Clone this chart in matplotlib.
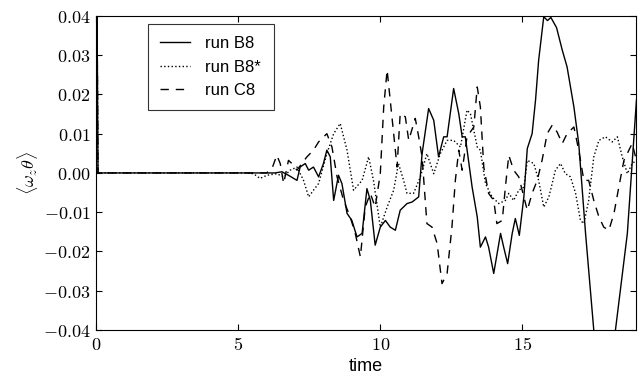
import matplotlib
matplotlib.use("Agg")
import matplotlib.pyplot as plt
from matplotlib.ticker import FuncFormatter, MultipleLocator

plt.rcParams["mathtext.fontset"] = "cm"

# run B8 (solid)
t_b8 = [0.0, 0.03, 0.07, 6.30, 6.54, 6.77, 7.07, 7.18, 7.36, 7.48, 7.65, 7.83, 8.00,
        8.12, 8.24, 8.36, 8.53, 8.65, 8.83, 9.00, 9.18, 9.36, 9.53, 9.65, 9.82,
        10.00, 10.18, 10.35, 10.53, 10.70, 10.94, 11.12, 11.35, 11.47, 11.70,
        11.88, 12.05, 12.23, 12.35, 12.58, 12.76, 12.88, 12.99, 13.23, 13.41,
        13.52, 13.70, 13.81, 13.99, 14.23, 14.34, 14.48, 14.64, 14.75, 14.89,
        15.05, 15.17, 15.34, 15.46, 15.57, 15.75, 15.88, 16.00, 16.20, 16.40,
        16.57, 16.81, 16.98, 17.22, 17.51, 17.89, 18.27, 18.69, 19.01]
v_b8 = [0.0, 0.05, 0.0, 0.0, 0.0003, -0.0006, -0.0019, 0.0015, 0.0024, 0.0007,
        0.0015, -0.0010, 0.0024, 0.0058, 0.0041, -0.0070, -0.0006, -0.0027,
        -0.0103, -0.0121, -0.0163, -0.0154, -0.0040, -0.0070, -0.0184, -0.0138,
        -0.0121, -0.0138, -0.0146, -0.0095, -0.0078, -0.0074, -0.0061, 0.0049,
        0.0164, 0.0134, 0.0041, 0.0092, 0.0092, 0.0215, 0.0151, 0.0092, 0.0092,
        -0.0036, -0.0112, -0.0189, -0.0163, -0.0189, -0.0256, -0.0154, -0.0189,
        -0.0231, -0.0154, -0.0116, -0.0159, -0.0061, 0.0062, 0.0100, 0.0185,
        0.0287, 0.0398, 0.0388, 0.0396, 0.0370, 0.0313, 0.0270, 0.0168, 0.0075,
        -0.0154, -0.0401, -0.0550, -0.0401, -0.0154, 0.0185]

# run B8* (dotted)
t_b8s = [0.0, 0.03, 0.07, 5.30, 5.54, 5.77, 6.01, 6.36, 6.60, 6.83, 7.07, 7.30,
         7.48, 7.65, 7.83, 8.12, 8.36, 8.59, 8.83, 9.06, 9.36, 9.59, 9.76,
         10.00, 10.24, 10.47, 10.64, 10.82, 10.94, 11.17, 11.41, 11.64, 11.88,
         12.11, 12.35, 12.58, 12.82, 13.05, 13.17, 13.41, 13.52, 13.70, 13.93,
         14.17, 14.40, 14.52, 14.69, 14.87, 15.05, 15.17, 15.40, 15.57, 15.75,
         15.93, 16.16, 16.34, 16.51, 16.69, 16.87, 17.04, 17.16, 17.33, 17.51,
         17.69, 17.92, 18.16, 18.34, 18.51, 18.69, 18.86, 19.01]
v_b8s = [0.0, 0.05, 0.0, 0.0, -0.0002, -0.0014, -0.0006, -0.0002, -0.0010,
         0.0007, 0.0015, -0.0019, -0.0061, -0.0044, -0.0027, 0.0049, 0.0100,
         0.0126, 0.0058, -0.0044, -0.0019, 0.0041, -0.0019, -0.0138, -0.0087,
         -0.0044, 0.0024, -0.0019, -0.0052, -0.0052, -0.0010, 0.0049, -0.0002,
         0.0049, 0.0083, 0.0083, 0.0066, 0.0160, 0.0151, 0.0066, 0.0058,
         -0.0027, -0.0061, -0.0078, -0.0070, -0.0052, -0.0070, -0.0044,
         -0.0036, 0.0032, 0.0024, -0.0019, -0.0087, -0.0061, 0.0007, 0.0024,
         -0.0002, -0.0010, -0.0052, -0.0121, -0.0129, -0.0070, 0.0041, 0.0083,
         0.0092, 0.0079, 0.0092, 0.0041, -0.0002, 0.0024, 0.0032]

# run C8 (dashed)
t_c8 = [0.0, 0.03, 0.07, 6.00, 6.19, 6.36, 6.48, 6.60, 6.77, 6.89, 7.07, 7.24,
        7.42, 7.65, 7.83, 8.12, 8.30, 8.48, 8.71, 8.94, 9.12, 9.30, 9.47, 9.65,
        9.82, 10.00, 10.12, 10.24, 10.35, 10.47, 10.59, 10.70, 10.88, 11.00,
        11.23, 11.35, 11.47, 11.64, 11.82, 12.00, 12.17, 12.35, 12.52, 12.64,
        12.76, 12.88, 13.05, 13.29, 13.41, 13.52, 13.64, 13.81, 13.99, 14.10,
        14.29, 14.40, 14.52, 14.69, 14.87, 15.05, 15.17, 15.34, 15.52, 15.69,
        15.87, 16.05, 16.22, 16.40, 16.57, 16.81, 16.98, 17.16, 17.33, 17.51,
        17.69, 17.86, 18.04, 18.22, 18.39, 18.57, 18.86, 19.01]
v_c8 = [0.0, 0.05, 0.0, 0.0, 0.0011, 0.0045, 0.0024, -0.0027, 0.0032, 0.0024,
        0.0007, 0.0024, 0.0041, 0.0058, 0.0079, 0.0100, 0.0066, -0.0010,
        -0.0070, -0.0112, -0.0154, -0.0214, -0.0087, -0.0052, -0.0087, -0.0002,
        0.0168, 0.0262, 0.0185, 0.0100, 0.0015, 0.0151, 0.0143, 0.0083, 0.0139,
        0.0092, 0.0041, -0.0129, -0.0138, -0.0180, -0.0282, -0.0256, -0.0138,
        -0.0019, 0.0058, 0.0007, 0.0092, 0.0117, 0.0219, 0.0168, 0.0015,
        -0.0052, -0.0070, -0.0129, -0.0121, -0.0036, 0.0045, 0.0007, -0.0010,
        -0.0061, -0.0095, -0.0052, -0.0019, 0.0032, 0.0100, 0.0122, 0.0104,
        0.0075, 0.0100, 0.0117, 0.0058, -0.0019, -0.0019, -0.0070, -0.0112,
        -0.0138, -0.0146, -0.0103, -0.0036, 0.0032, 0.0075, 0.0032]

labels = ["run B8", "run B8*", "run C8"]

fig = plt.figure(figsize=(6.4, 3.78), dpi=100)
ax = fig.add_axes([0.15, 0.127, 0.844, 0.831])

ax.plot(t_b8, v_b8, color="black", lw=1.0, ls="-", label=labels[0])
ax.plot(t_b8s, v_b8s, color="black", lw=1.0, ls=":", label=labels[1])
ax.plot(t_c8, v_c8, color="black", lw=1.0, dashes=(6, 5), label=labels[2])

ax.set_xlim(0, 19)
ax.set_ylim(-0.04, 0.04)
ax.xaxis.set_major_locator(MultipleLocator(5))
ax.yaxis.set_major_locator(MultipleLocator(0.01))
ax.xaxis.set_major_formatter(FuncFormatter(lambda v, p: f"${v:.0f}$"))
ax.yaxis.set_major_formatter(
    FuncFormatter(lambda v, p: f"${v:.2f}$" if abs(v) > 1e-9 else "$0.00$"))
ax.tick_params(direction="in", top=True, right=True, length=4, width=0.8,
               labelsize=13, pad=4)

ax.set_xlabel("time", family="Liberation Sans", fontsize=13, labelpad=3)
ax.set_ylabel(r"$\langle\omega_z\theta\rangle$", fontsize=13, labelpad=2)

leg = ax.legend(loc="upper left", bbox_to_anchor=(0.096, 0.975),
                borderaxespad=0,
                prop={"family": "Liberation Sans", "size": 12},
                frameon=True, fancybox=False, edgecolor="black",
                handlelength=1.8, labelspacing=0.5, borderpad=0.75,
                handletextpad=0.9)
leg.get_frame().set_linewidth(0.8)

fig.savefig("out.png", dpi=100)
